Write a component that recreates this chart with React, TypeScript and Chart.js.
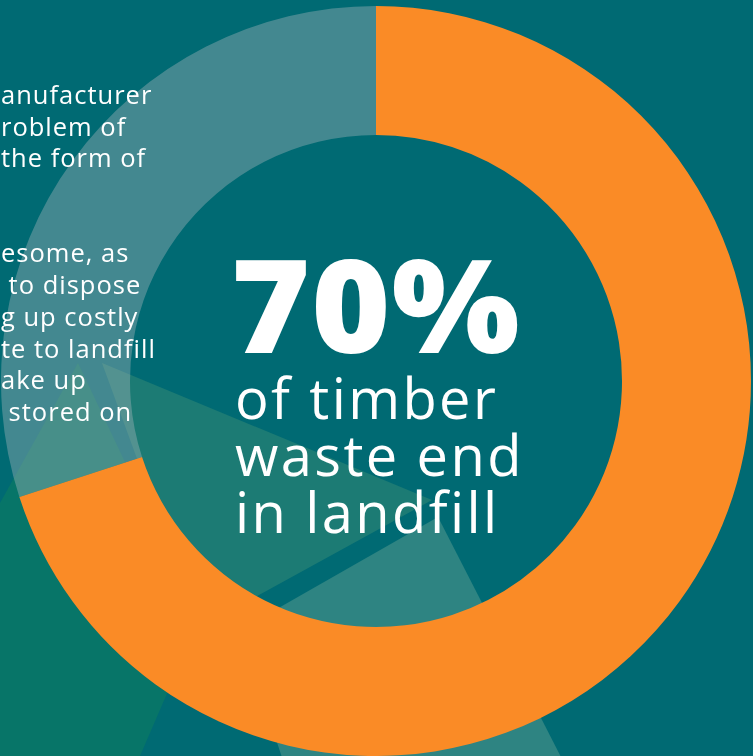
import React, { useEffect, useRef } from 'react';
import { Chart, registerables } from 'chart.js';

Chart.register(...registerables);

// ---- data ----
const categories = ['Timber waste ending in landfill', 'Other timber waste'];
const shares = [70, 30];
const headline = '70%';
const captionLines = ['of timber', 'waste end', 'in landfill'];
const sideLines = [
  'anufacturer',
  'roblem of',
  'the form of',
  '',
  '',
  'esome, as',
  '\u00a0to dispose',
  'g up costly',
  'te to landfill',
  'ake up',
  '\u00a0stored on',
];

// ---- styles ----
const BG = '#006a73';
const ORANGE = '#fa8b26';
const RING = 'rgba(167,182,188,0.40)';
const FONT = '"Open Sans", "DejaVu Sans", sans-serif';

const decor: { pts: string; color: string }[] = [
  { pts: '78px 363px, 0px 503px, 0px 756px, 140px 756px, 172px 682px, 200px 620px', color: '#077568' },
  { pts: '102px 363px, 432px 500px, 199px 628px', color: '#1c7b74' },
  { pts: '438px 517px, 583px 800px, 296px 800px, 240px 630px', color: '#2e8482' },
];

export default function App() {
  const ref = useRef<HTMLCanvasElement>(null);

  useEffect(() => {
    if (!ref.current) return;
    const chart = new Chart(ref.current, {
      type: 'doughnut',
      data: {
        labels: categories,
        datasets: [
          {
            data: shares,
            backgroundColor: [ORANGE, RING],
            borderWidth: 0,
            hoverOffset: 0,
            offset: 0,
          },
        ],
      },
      options: {
        responsive: false,
        animation: false,
        cutout: '65.6%',
        layout: { padding: 0 },
        events: [],
        plugins: {
          legend: { display: false },
          tooltip: { enabled: false },
        },
      },
    });
    return () => chart.destroy();
  }, []);

  return (
    <div
      style={{
        position: 'fixed',
        left: 0,
        top: 0,
        width: 753,
        height: 756,
        overflow: 'hidden',
        background: BG,
        fontFamily: FONT,
        color: '#ffffff',
      }}
    >
      {decor.map((d, i) => (
        <div
          key={i}
          style={{
            position: 'absolute',
            left: 0,
            top: 0,
            width: 753,
            height: 756,
            background: d.color,
            clipPath: `polygon(${d.pts})`,
          }}
        />
      ))}
      <canvas
        ref={ref}
        width={750}
        height={750}
        style={{ position: 'absolute', left: 1, top: 6, width: 750, height: 750 }}
      />
      <div
        style={{
          position: 'absolute',
          left: 1,
          top: 79,
          fontSize: 25.5,
          lineHeight: '31.7px',
          letterSpacing: '1px',
          fontWeight: 400,
          whiteSpace: 'pre',
        }}
      >
        {sideLines.map((l, i) => (
          <div key={i} style={{ height: 31.7 }}>
            {l}
          </div>
        ))}
      </div>
      <div
        style={{
          position: 'absolute',
          left: 231,
          top: 238,
          fontSize: 130,
          lineHeight: '130px',
          fontWeight: 800,
          letterSpacing: '1px',
          whiteSpace: 'nowrap',
          transform: 'scaleX(1.04)',
          transformOrigin: 'left top',
        }}
      >
        {headline}
      </div>
      <div
        style={{
          position: 'absolute',
          left: 235,
          top: 369,
          fontSize: 56,
          lineHeight: '57px',
          fontWeight: 400,
          letterSpacing: '2.4px',
          whiteSpace: 'nowrap',
        }}
      >
        {captionLines.map((l, i) => (
          <div key={i}>{l}</div>
        ))}
      </div>
    </div>
  );
}
